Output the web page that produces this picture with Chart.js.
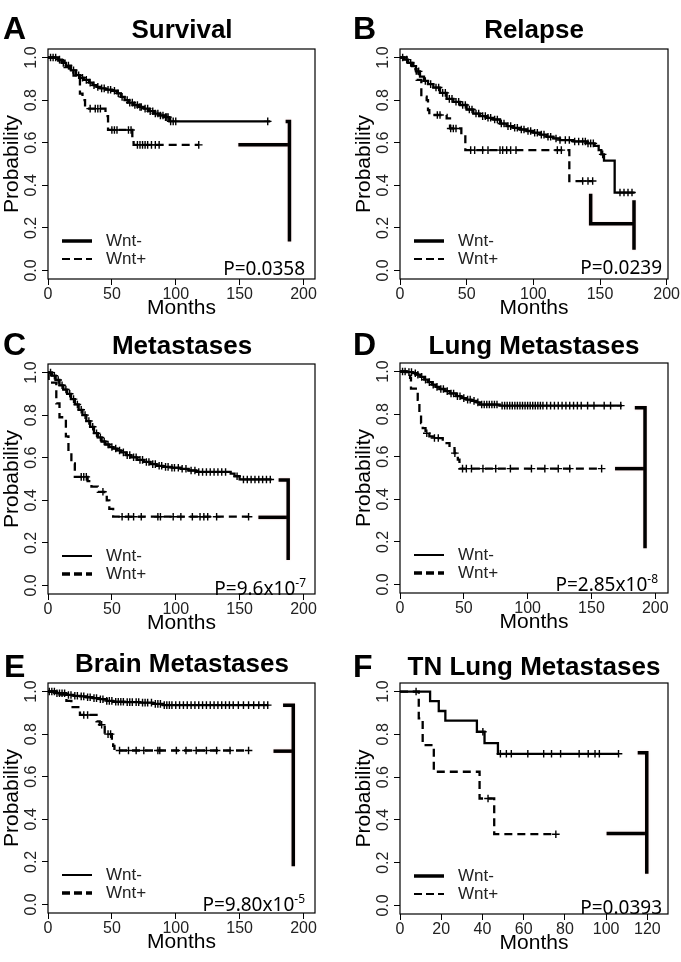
<!DOCTYPE html>
<html>
<head>
<meta charset="utf-8">
<script src="https://cdn.jsdelivr.net/npm/chart.js@4.4.1/dist/chart.umd.min.js"></script>
<style>
  html, body { margin: 0; padding: 0; overflow: hidden; background: #fff; }
  #page { position: relative; width: 681px; height: 962px; }
  canvas { position: absolute; }
  .txt { position: absolute; white-space: nowrap; line-height: 1; color: #000; z-index: 2; }
  .title { font: bold 26px Arial, "Liberation Sans", sans-serif; width: 340px; text-align: center; }
  .letter { font: bold 32px Arial, "Liberation Sans", sans-serif; }
  .pval { font: 19px "Noto Sans", sans-serif; width: 200px; text-align: right; }
  .pval span { font-size: 12px; position: relative; top: -8px; }
</style>
</head>
<body>
<div id="page">
  <div class="txt letter" style="left:3px;top:10px">A</div>
  <div class="txt letter" style="left:353px;top:10px">B</div>
  <div class="txt letter" style="left:3px;top:326px">C</div>
  <div class="txt letter" style="left:353px;top:326px">D</div>
  <div class="txt letter" style="left:4px;top:648px">E</div>
  <div class="txt letter" style="left:353px;top:648px">F</div>

  <div class="txt title" style="left:12px;top:14px">Survival</div>
  <div class="txt title" style="left:364px;top:14px">Relapse</div>
  <div class="txt title" style="left:12px;top:330px">Metastases</div>
  <div class="txt title" style="left:364px;top:330px">Lung Metastases</div>
  <div class="txt title" style="left:12px;top:648px">Brain Metastases</div>
  <div class="txt title" style="left:364px;top:651px">TN Lung Metastases</div>

  <div class="txt pval" style="left:105px;top:255px">P=0.0358</div>
  <div class="txt pval" style="left:462px;top:254px">P=0.0239</div>
  <div class="txt pval" style="left:106px;top:575px">P=9.6x10<span>-7</span></div>
  <div class="txt pval" style="left:458px;top:571px">P=2.85x10<span>-8</span></div>
  <div class="txt pval" style="left:105px;top:891px">P=9.80x10<span>-5</span></div>
  <div class="txt pval" style="left:462px;top:894px">P=0.0393</div>
</div>
<script>
// tick labels
const probTicks = [0, 0.2, 0.4, 0.6, 0.8, 1.0];
const monthTicks = [0, 50, 100, 150, 200];
const monthTicksTN = [0, 20, 40, 60, 80, 100, 120];
const groupLabels = ['Wnt-', 'Wnt+'];

// A: Survival
const aNegT = [0, 8, 11, 14, 18, 22, 25, 28, 32, 35, 38, 41, 45, 50, 54, 57, 60, 63, 67, 71, 75, 79, 83, 87, 91, 95, 174];
const aNegS = [1.0, 0.99, 0.975, 0.962, 0.94, 0.917, 0.905, 0.895, 0.882, 0.87, 0.862, 0.855, 0.849, 0.844, 0.832, 0.815, 0.80, 0.788, 0.777, 0.768, 0.76, 0.748, 0.737, 0.728, 0.72, 0.70, 0.70];
const aNegCens = [2, 4, 6, 9, 12, 16, 20, 24, 27, 30, 33, 36, 39, 42, 44, 47, 49, 52, 55, 58, 62, 64, 66, 68, 70, 72, 73, 76, 78, 80, 82, 84, 86, 88, 90, 92, 93, 94, 96, 98, 100, 172];
const aPosT = [0, 8, 13, 17, 20, 25, 27, 29, 45, 47, 66, 67, 118];
const aPosS = [1.0, 0.985, 0.955, 0.93, 0.915, 0.83, 0.80, 0.76, 0.725, 0.66, 0.625, 0.59, 0.59];
const aPosCens = [33, 37, 39, 41, 50, 52, 54, 63, 65, 70, 72, 74, 76, 78, 81, 84, 87, 118];
const aBracket = [[[186, 0.70], [189, 0.70], [189, 0.136]], [[149, 0.59], [189, 0.59]]];

// B: Relapse
const bNegT = [0, 3, 6, 9, 12, 15, 18, 21, 25, 30, 35, 40, 45, 50, 55, 60, 65, 70, 75, 80, 85, 90, 95, 100, 105, 110, 115, 120, 130, 140, 146, 149, 151, 153, 161, 176];
const bNegS = [1.0, 0.99, 0.975, 0.96, 0.935, 0.91, 0.89, 0.875, 0.859, 0.834, 0.806, 0.792, 0.777, 0.756, 0.737, 0.725, 0.717, 0.709, 0.69, 0.678, 0.67, 0.662, 0.655, 0.647, 0.638, 0.628, 0.62, 0.6125, 0.606, 0.597, 0.585, 0.565, 0.545, 0.516, 0.366, 0.366];
const bNegCens = [2, 5, 8, 14, 19, 23, 27, 29, 32, 34, 37, 39, 42, 44, 47, 49, 52, 54, 57, 59, 62, 64, 66, 68, 71, 73, 76, 78, 81, 83, 86, 88, 91, 93, 96, 98, 101, 103, 106, 108, 111, 113, 117, 120, 124, 127, 131, 134, 137, 139, 141, 143, 145, 152, 165, 168, 171, 174];
const bPosT = [0, 5, 10, 12.5, 16, 20, 21, 22, 35, 37.5, 46, 49, 127, 144.5];
const bPosS = [1.0, 0.975, 0.945, 0.895, 0.816, 0.80, 0.753, 0.73, 0.714, 0.667, 0.64, 0.565, 0.42, 0.42];
const bPosCens = [28, 30, 38, 40, 42, 53, 56, 62, 66, 75, 77, 80, 83, 87, 118, 121, 137, 141, 144.5];
const bBracket = [[[143, 0.36], [143, 0.22], [175.5, 0.22]], [[175.5, 0.33], [175.5, 0.097]]];

// C: Metastases
const cNegT = [0, 3, 6, 9, 12, 15, 18, 21, 24, 27, 30, 33, 36, 39, 42, 45, 48, 51, 54, 57, 61, 65, 70, 75, 80, 85, 90, 97, 104, 110, 116, 143, 146, 150, 175];
const cNegS = [1.0, 0.985, 0.965, 0.94, 0.92, 0.9, 0.875, 0.85, 0.825, 0.80, 0.772, 0.745, 0.715, 0.695, 0.676, 0.662, 0.65, 0.643, 0.634, 0.625, 0.612, 0.602, 0.59, 0.58, 0.57, 0.562, 0.557, 0.553, 0.548, 0.54, 0.533, 0.525, 0.513, 0.498, 0.498];
const cNegCens = [2, 5, 8, 11, 14, 17, 20, 23, 26, 29, 32, 35, 38, 41, 44, 47, 50, 53, 56, 59, 62, 64, 67, 69, 72, 74, 77, 79, 82, 84, 87, 89, 92, 94, 97, 99, 102, 105, 108, 112, 115, 118, 121, 124, 127, 130, 133, 136, 139, 148, 153, 156, 159, 162, 165, 168, 171, 174];
const cPosT = [0, 0.5, 6.5, 9, 14, 16, 18.3, 21, 31, 34, 39, 44, 46, 48, 51, 157];
const cPosS = [1.0, 0.953, 0.855, 0.79, 0.70, 0.63, 0.573, 0.51, 0.49, 0.464, 0.44, 0.425, 0.40, 0.36, 0.323, 0.323];
const cPosCens = [26, 28, 30, 43, 58, 63, 67, 73, 86, 88, 98, 104, 113, 119, 122, 125, 132, 157];
const cBracket = [[[180.5, 0.495], [188, 0.495], [188, 0.12]], [[164.7, 0.32], [188, 0.32]]];

// D: Lung Metastases
const dNegT = [0, 5, 10, 13, 16, 19, 22, 25, 28, 31, 35, 39, 44, 48, 52, 56, 60, 62.4, 78, 174];
const dNegS = [1.0, 0.997, 0.992, 0.985, 0.975, 0.962, 0.95, 0.938, 0.928, 0.918, 0.908, 0.897, 0.884, 0.875, 0.868, 0.862, 0.855, 0.845, 0.84, 0.84];
const dNegCens = [2, 4, 7, 9, 12, 14, 17, 20, 23, 26, 29, 32, 34, 37, 40, 42, 45, 47, 50, 53, 55, 58, 61, 64, 66, 68, 70, 72, 74, 76, 80, 82, 84, 86, 88, 90, 92, 94, 96, 98, 100, 102, 104, 106, 108, 110, 112, 115, 118, 121, 124, 127, 130, 133, 136, 139, 142, 147, 152, 160, 165, 173];
const dPosT = [0, 7.9, 8.6, 13.9, 15.2, 16.5, 17.8, 20, 23, 25.7, 33.5, 38.8, 42.7, 45.3, 46.6, 158];
const dPosS = [1.0, 0.97, 0.92, 0.867, 0.80, 0.758, 0.734, 0.71, 0.695, 0.6875, 0.664, 0.64, 0.617, 0.586, 0.544, 0.544];
const dPosCens = [21, 27, 30, 43, 49, 52, 56, 65, 75, 86.5, 103, 113.5, 124, 133, 158];
const dBracket = [[[184, 0.83], [192, 0.83], [192, 0.17]], [[168.5, 0.544], [192, 0.544]]];

// E: Brain Metastases
const eNegT = [0, 6.5, 14, 20, 25, 30, 35, 40.5, 46, 51, 60, 72, 82, 90, 172.5];
const eNegS = [1.0, 0.992, 0.984, 0.98, 0.977, 0.973, 0.969, 0.964, 0.956, 0.952, 0.95, 0.948, 0.942, 0.936, 0.936];
const eNegCens = [1, 3, 5, 7, 9, 11, 13, 16, 18, 21, 23, 26, 28, 31, 33, 36, 38, 41, 43, 46, 48, 50, 53, 55, 57, 59, 62, 64, 66, 69, 71, 74, 76, 78, 81, 84, 86, 88, 91, 93, 95, 97, 100, 103, 106, 109, 112, 115, 118, 121, 124, 127, 130, 133, 136, 139, 142, 145, 149, 153, 157, 161, 165, 169, 172];
const ePosT = [0, 9, 14.4, 18.3, 25, 38, 40.5, 44.4, 50, 51, 52, 157];
const ePosS = [1.0, 0.985, 0.956, 0.927, 0.89, 0.86, 0.844, 0.80, 0.773, 0.745, 0.723, 0.723];
const ePosCens = [28, 31, 42, 47, 49, 56, 63, 69, 75, 86, 87.5, 100.5, 108, 116, 124, 132, 142.5, 157];
const eBracket = [[[184, 0.936], [192, 0.936], [192, 0.18]], [[176.5, 0.72], [192, 0.72]]];

// F: TN Lung Metastases
const fNegT = [0, 14.6, 18.8, 22, 37.3, 41, 47.5, 106];
const fNegS = [1.0, 0.955, 0.909, 0.864, 0.812, 0.759, 0.709, 0.709];
const fNegCens = [7.8, 40.2, 48.7, 51.6, 54, 62, 69.7, 73.5, 77.9, 86.9, 91.3, 94.6, 96.7, 106];
const fPosT = [0, 9.1, 11, 16.4, 38.6, 45.7, 75.6];
const fPosS = [1.0, 0.875, 0.75, 0.625, 0.5, 0.333, 0.333];
const fPosCens = [42.7, 75.6];
const fBracket = [[[115.3, 0.714], [119.7, 0.714], [119.7, 0.148]], [[100.2, 0.336], [119.7, 0.336]]];

const rFont = 'Arial, "Liberation Sans", sans-serif';

function survAt(times, surv, t) {
  let s = surv[0];
  for (let i = 0; i < times.length; i++) {
    if (times[i] <= t) s = surv[i];
  }
  return s;
}

function curve(times, surv) {
  return times.map((t, i) => ({x: t, y: surv[i]}));
}

function censors(times, surv, cens) {
  return cens.map(t => ({x: t, y: survAt(times, surv, t)}));
}

// box, rotated y labels and the little legend, R style
const kmDecor = {
  id: 'kmDecor',
  beforeDatasetDraw(chart, args) {
    if (chart.data.datasets[args.index].glow) {
      chart.ctx.save();
      chart.ctx.shadowColor = 'rgba(240,90,90,0.25)';
      chart.ctx.shadowBlur = 2;
    }
  },
  afterDatasetDraw(chart, args) {
    if (chart.data.datasets[args.index].glow) chart.ctx.restore();
  },
  afterDraw(chart, args, opts) {
    const ctx = chart.ctx;
    const a = chart.chartArea;
    const y = chart.scales.y;
    ctx.save();
    ctx.strokeStyle = '#000';
    ctx.lineWidth = 1.2;
    ctx.strokeRect(a.left, a.top, a.right - a.left, a.bottom - a.top);

    ctx.fillStyle = '#222';
    ctx.font = '16px ' + rFont;
    ctx.textAlign = 'center';
    ctx.textBaseline = 'middle';
    probTicks.forEach(v => {
      ctx.save();
      ctx.translate(a.left - 16, y.getPixelForValue(v));
      ctx.rotate(-Math.PI / 2);
      ctx.fillText(v.toFixed(1), 0, 0);
      ctx.restore();
    });

    const rows = [a.bottom - 38, a.bottom - 20];
    ctx.font = '17px ' + rFont;
    ctx.textAlign = 'left';
    rows.forEach((ry, i) => {
      ctx.beginPath();
      ctx.setLineDash(i === 0 ? [] : [8, 4]);
      ctx.lineWidth = opts.lw[i];
      ctx.moveTo(a.left + 14, ry);
      ctx.lineTo(a.left + 44, ry);
      ctx.stroke();
      ctx.setLineDash([]);
      ctx.fillText(chart.data.datasets[i].label, a.left + 58, ry);
    });
    ctx.restore();
  }
};

function makePanel(p) {
  const canvas = document.createElement('canvas');
  canvas.width = p.w;
  canvas.height = p.h;
  canvas.style.left = p.left + 'px';
  canvas.style.top = p.top + 'px';
  canvas.style.width = p.w + 'px';
  canvas.style.height = p.h + 'px';
  document.getElementById('page').appendChild(canvas);

  const datasets = [
    {label: groupLabels[0], data: curve(p.negT, p.negS), stepped: true, borderColor: '#000', borderWidth: 2.3, pointRadius: 0},
    {label: groupLabels[1], data: curve(p.posT, p.posS), stepped: true, borderColor: '#000', borderWidth: 2.3, borderDash: [8, 5], pointRadius: 0},
    {label: 'censored ' + groupLabels[0], data: censors(p.negT, p.negS, p.negC), showLine: false, pointStyle: 'cross', pointRadius: 3.8, borderColor: '#000', borderWidth: 1.4},
    {label: 'censored ' + groupLabels[1], data: censors(p.posT, p.posS, p.posC), showLine: false, pointStyle: 'cross', pointRadius: 3.8, borderColor: '#000', borderWidth: 1.4}
  ];
  p.bracket.forEach(seg => {
    datasets.push({label: 'bracket', data: seg.map(q => ({x: q[0], y: q[1]})), borderColor: '#000', borderWidth: 3.5, pointRadius: 0, glow: true});
  });

  return new Chart(canvas, {
    type: 'line',
    data: {datasets: datasets},
    plugins: [kmDecor],
    options: {
      responsive: false,
      animation: false,
      events: [],
      layout: {padding: {left: 0, top: 10, right: p.padR, bottom: 0}},
      plugins: {
        legend: {display: false},
        tooltip: {enabled: false},
        kmDecor: {lw: p.lw}
      },
      scales: {
        x: {
          type: 'linear',
          min: 0,
          max: p.xMax,
          afterBuildTicks: s => { s.ticks = p.xTicks.map(v => ({value: v})); },
          afterFit: s => { s.height = 42; },
          grid: {drawOnChartArea: false, drawTicks: true, tickLength: 6, color: '#000'},
          border: {display: false},
          ticks: {autoSkip: false, maxRotation: 0, padding: 0, color: '#222', font: {family: rFont, size: 16}},
          title: {display: true, text: 'Months', padding: 0, color: '#000', font: {family: rFont, size: 21}}
        },
        y: {
          type: 'linear',
          min: -0.04,
          max: 1.04,
          afterBuildTicks: s => { s.ticks = probTicks.map(v => ({value: v})); },
          afterFit: s => { s.width = 48; },
          grid: {drawOnChartArea: false, drawTicks: true, tickLength: 6, color: '#000'},
          border: {display: false},
          ticks: {display: false},
          title: {display: true, text: 'Probability', padding: 0, color: '#000', font: {family: rFont, size: 21}}
        }
      }
    }
  });
}

makePanel({left: 0, top: 39, w: 335, h: 282, padR: 20, xMax: 209, xTicks: monthTicks,
  negT: aNegT, negS: aNegS, negC: aNegCens, posT: aPosT, posS: aPosS, posC: aPosCens, bracket: aBracket, lw: [3.5, 2]});
makePanel({left: 352, top: 39, w: 332, h: 282, padR: 16, xMax: 201, xTicks: monthTicks,
  negT: bNegT, negS: bNegS, negC: bNegCens, posT: bPosT, posS: bPosS, posC: bPosCens, bracket: bBracket, lw: [3.5, 2]});
makePanel({left: 0, top: 354, w: 335, h: 282, padR: 20, xMax: 209, xTicks: monthTicks,
  negT: cNegT, negS: cNegS, negC: cNegCens, posT: cPosT, posS: cPosS, posC: cPosCens, bracket: cBracket, lw: [2, 3.5]});
makePanel({left: 352, top: 353, w: 332, h: 282, padR: 16, xMax: 210, xTicks: monthTicks,
  negT: dNegT, negS: dNegS, negC: dNegCens, posT: dPosT, posS: dPosS, posC: dPosCens, bracket: dBracket, lw: [2, 3.5]});
makePanel({left: 0, top: 673, w: 335, h: 282, padR: 20, xMax: 209, xTicks: monthTicks,
  negT: eNegT, negS: eNegS, negC: eNegCens, posT: ePosT, posS: ePosS, posC: ePosCens, bracket: eBracket, lw: [2, 3.5]});
makePanel({left: 352, top: 673, w: 332, h: 283, padR: 16, xMax: 130, xTicks: monthTicksTN,
  negT: fNegT, negS: fNegS, negC: fNegCens, posT: fPosT, posS: fPosS, posC: fPosCens, bracket: fBracket, lw: [3.5, 2]});
</script>
</body>
</html>
